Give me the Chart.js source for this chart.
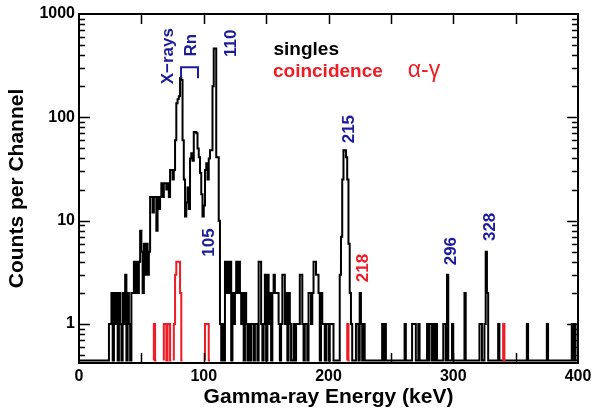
<!DOCTYPE html>
<html><head><meta charset="utf-8">
<script src="https://cdn.jsdelivr.net/npm/chart.js@4.4.1/dist/chart.umd.min.js"></script>
<style>html,body{margin:0;padding:0;background:#fff}</style>
</head><body>
<canvas id="c" width="592" height="410"></canvas>
<script>
// Singles counts per 1-keV channel, channels 0..399 keV
const singlesCounts = [
  0,0,0,0,0,0,0,0,0,0, 0,0,0,0,0,0,0,0,0,0,
  0,0,0,0,0,1,1,2,0,2, 1,2,0,2,1,0,2,1,3,0,
  2,1,0,2,2,4,2,4,2,4, 8,5,2,6,3,6,3,5,17,17,
  12,17,17,8,17,13,17,23,17,23, 23,20,23,17,31,31,25,31,60,137,
  150,160,240,230,60,25,11,15,21,13, 40,45,38,72,72,70,50,41,29,18,
  11,14,31,36,25,40,48,48,200,464, 464,41,41,10,1,0,1,0,4,2,
  4,2,4,0,2,1,2,4,2,4, 2,1,2,0,2,1,0,1,0,1,
  1,0,1,1,0,4,4,1,0,1, 3,0,3,1,2,0,2,3,2,2,
  2,1,0,1,3,3,1,2,0,2, 1,0,0,1,0,1,1,1,3,3,
  1,0,1,1,0,2,2,1,2,4, 4,3,3,2,0,2,1,1,0,1,
  1,0,1,1,1,0,0,0,0,0, 3,7,25,48,48,41,25,6,2,1,
  0,0,0,1,1,0,2,1,0,1, 0,0,0,0,0,0,0,0,0,0,
  0,0,0,0,1,0,1,0,0,0, 0,0,0,0,0,0,0,0,0,0,
  0,0,1,0,0,0,0,0,1,1, 1,0,0,1,0,0,0,0,0,0,
  1,0,1,1,0,1,0,1,0,0, 0,0,0,1,1,0,3,0,0,0,
  1,0,0,0,0,0,0,0,0,0, 2,0,0,0,0,0,0,0,0,0,
  0,0,1,1,0,0,1,5,2,0, 0,0,0,0,0,0,0,1,0,0,
  0,0,0,0,0,0,0,0,0,0, 0,0,0,0,0,0,0,0,0,0,
  1,0,0,0,0,0,0,0,0,0, 0,0,0,0,0,0,1,0,0,0,
  0,0,0,0,0,0,0,0,0,0, 0,0,0,0,0,0,1,0,1,0
];
// Alpha-gamma coincidence counts (non-empty channels only)
const coincEnergies = [61, 69, 70, 72, 73, 77, 78, 79, 80, 81, 82, 102, 103, 104, 216, 341];
const coincCounts   = [ 1,  1,  1,  1,  1,  1,  3,  4,  4,  4,  2,   1,   1,   1,   1,   1];

const xTickLabels = [0, 100, 200, 300, 400];
const yTickLabels = [1, 10, 100, 1000];

// Text annotations: [text, energy (keV), counts, colour, font]
const annotations = [
  ['X\u2212rays', 71.3, 391, 'blue', 'bold 17px'],
  ['Rn', 89.8, 500, 'blue', 'bold 17px'],
  ['110', 121.8, 522, 'blue', 'bold 17px'],
  ['105', 104.2, 6.14, 'blue', 'bold 17px'],
  ['215', 216.4, 76.9, 'blue', 'bold 17px'],
  ['218', 227.7, 3.48, 'red', 'bold 17px'],
  ['296', 298.8, 5.08, 'blue', 'bold 17px'],
  ['328', 329.5, 8.72, 'blue', 'bold 17px']
];
const legendItems = [
  ['singles', 155.9, 447, 'black'],
  ['coincidence', 155.5, 277, 'red']
];
const reactionLabel = ['\u03b1-\u03b3', 276.5, 286];
const bracket = { e0: 81.8, e1: 95.4, top: 306, bottom: 239 };

const COLORS = { blue: '#1b1b9b', red: '#ee1c25', black: '#000000' };
const FONT = "'Liberation Sans', Arial, sans-serif";
const Y_MIN = 0.42, Y_MAX = 1000, ZERO_LEVEL = 0.445;

function histPoints(counts) {
  const pts = counts.map((c, i) => ({ x: i, y: c > 0 ? c : ZERO_LEVEL }));
  pts.push({ x: counts.length, y: ZERO_LEVEL });
  return pts;
}
const coincFull = new Array(singlesCounts.length).fill(0);
coincEnergies.forEach((e, i) => { coincFull[e] = coincCounts[i]; });

const framePlugin = {
  id: 'frame',
  afterDatasetsDraw(chart) {
    const { ctx, chartArea: a, scales: { x, y } } = chart;
    ctx.save();
    ctx.strokeStyle = '#000';
    ctx.lineWidth = 2;
    ctx.strokeRect(a.left, a.top, a.right - a.left, a.bottom - a.top);
    ctx.lineWidth = 1.5;
    ctx.beginPath();
    for (let k = -1; k <= 2; k++) {
      for (let m = 1; m <= 9; m++) {
        const v = m * Math.pow(10, k);
        if (v < Y_MIN || v > Y_MAX) continue;
        const py = Math.round(y.getPixelForValue(v)) + 0.5;
        const len = m === 1 ? 11 : 6;
        ctx.moveTo(a.left, py); ctx.lineTo(a.left + len, py);
        ctx.moveTo(a.right, py); ctx.lineTo(a.right - len, py);
      }
    }
    const vt = y.getPixelForValue(1000);
    ctx.moveTo(a.left, vt); ctx.lineTo(a.left + 11, vt);
    ctx.moveTo(a.right, vt); ctx.lineTo(a.right - 11, vt);
    for (let e = 50; e < 400; e += 50) {
      const px = Math.round(x.getPixelForValue(e)) + 0.5;
      ctx.moveTo(px, a.top); ctx.lineTo(px, a.top + 10);
      ctx.moveTo(px, a.bottom); ctx.lineTo(px, a.bottom - 10);
    }
    ctx.stroke();

    ctx.strokeStyle = COLORS.blue;
    ctx.lineWidth = 2;
    ctx.beginPath();
    const bx0 = x.getPixelForValue(bracket.e0), bx1 = x.getPixelForValue(bracket.e1);
    const by0 = y.getPixelForValue(bracket.top), by1 = y.getPixelForValue(bracket.bottom);
    ctx.moveTo(bx0, by1); ctx.lineTo(bx0, by0); ctx.lineTo(bx1, by0); ctx.lineTo(bx1, by1);
    ctx.stroke();

    ctx.textAlign = 'center';
    ctx.textBaseline = 'middle';
    annotations.forEach(([t, e, c, col, f]) => {
      ctx.save();
      ctx.translate(x.getPixelForValue(e), y.getPixelForValue(c));
      ctx.rotate(-Math.PI / 2);
      ctx.font = f + ' ' + FONT;
      ctx.fillStyle = COLORS[col];
      ctx.fillText(t, 0, 0);
      ctx.restore();
    });
    ctx.textAlign = 'left';
    legendItems.forEach(([t, e, c, col]) => {
      ctx.font = 'bold 19px ' + FONT;
      ctx.fillStyle = COLORS[col];
      ctx.fillText(t, x.getPixelForValue(e), y.getPixelForValue(c));
    });
    ctx.textAlign = 'center';
    ctx.font = '23px ' + FONT;
    ctx.fillStyle = COLORS.red;
    ctx.fillText(reactionLabel[0], x.getPixelForValue(reactionLabel[1]), y.getPixelForValue(reactionLabel[2]));
    ctx.restore();
  }
};

const isZero = v => v <= ZERO_LEVEL + 1e-9;

new Chart(document.getElementById('c'), {
  type: 'line',
  data: {
    datasets: [
      { label: 'coincidence', data: histPoints(coincFull), borderColor: COLORS.red, borderWidth: 2,
        stepped: 'after', pointRadius: 0, fill: false,
        segment: { borderColor: c => (isZero(c.p0.parsed.y) && isZero(c.p1.parsed.y)) ? 'rgba(0,0,0,0)' : COLORS.red } },
      { label: 'singles', data: histPoints(singlesCounts), borderColor: COLORS.black, borderWidth: 2,
        stepped: 'after', pointRadius: 0, fill: false }
    ]
  },
  options: {
    responsive: false,
    animation: false,
    devicePixelRatio: 1,
    layout: { padding: { top: 14, right: 14, left: 0, bottom: 0 } },
    plugins: { legend: { display: false }, tooltip: { enabled: false } },
    scales: {
      x: {
        type: 'linear', min: 0, max: 400,
        grid: { display: false, drawTicks: false },
        border: { display: false },
        afterBuildTicks: s => { s.ticks = xTickLabels.map(v => ({ value: v })); },
        ticks: { padding: 4, color: '#000', maxRotation: 0, font: { family: FONT, size: 16, weight: 'bold' },
                 callback: v => String(v) },
        title: { display: true, text: 'Gamma-ray Energy (keV)', color: '#000',
                 font: { family: FONT, size: 21, weight: 'bold' }, padding: { top: 0, bottom: 0 } },
        afterFit: s => { s.height = 47; s.paddingLeft = 0; s.paddingRight = 0; }
      },
      y: {
        type: 'logarithmic', min: Y_MIN, max: Y_MAX,
        grid: { display: false, drawTicks: false },
        border: { display: false },
        afterBuildTicks: s => { s.ticks = yTickLabels.map(v => ({ value: v })); },
        ticks: { padding: 4, color: '#000', font: { family: FONT, size: 16, weight: 'bold' },
                 callback: v => String(v) },
        title: { display: true, text: 'Counts per Channel', color: '#000',
                 font: { family: FONT, size: 21, weight: 'bold' }, padding: { top: 5, bottom: 0 } },
        afterFit: s => { s.width = 79; s.paddingTop = 0; s.paddingBottom = 0; }
      }
    }
  },
  plugins: [framePlugin]
});
</script>
</body></html>
